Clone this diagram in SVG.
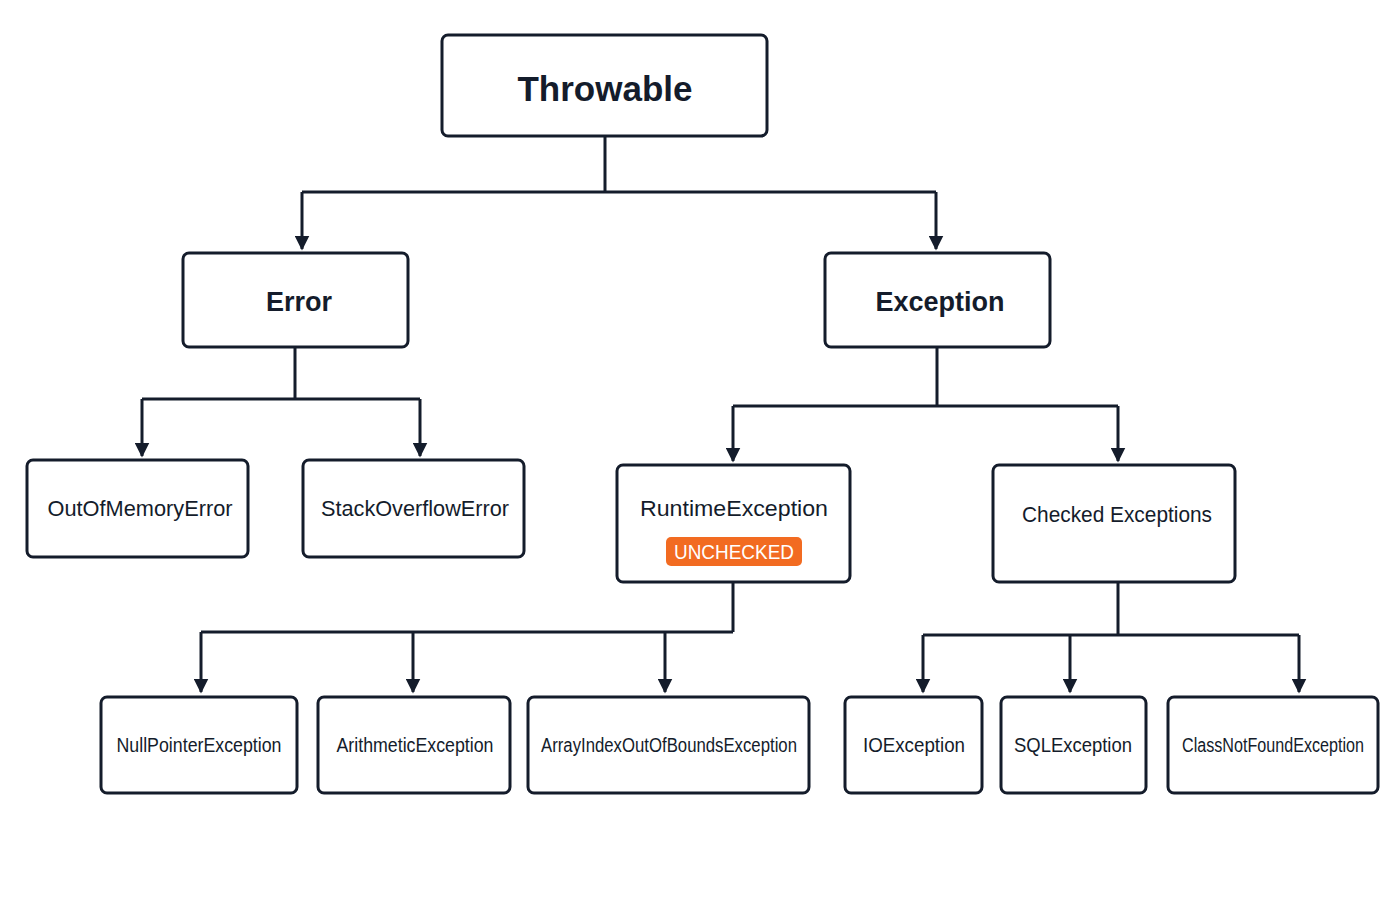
<svg xmlns="http://www.w3.org/2000/svg" width="1400" height="900" viewBox="0 0 1400 900">
<defs>
<marker id="ah" viewBox="0 0 10 10" refX="9" refY="5" markerWidth="5" markerHeight="5" orient="auto" markerUnits="strokeWidth"><path d="M0,0 L10,5 L0,10 z" fill="#141c2b"/></marker>
<style>
.b{fill:#fff;stroke:#141c2b;stroke-width:3}
.c{fill:none;stroke:#141c2b;stroke-width:3}
text{font-family:"Liberation Sans",Arial,sans-serif;fill:#141c2b;text-anchor:middle;dominant-baseline:central}
.t1{font-size:35px;font-weight:bold}
.t2{font-size:27px;font-weight:bold}
.t3{font-size:22px}
.t4{font-size:20px}
</style>
</defs>
<rect width="1400" height="900" fill="#fff"/>
<g id="connectors">
<path class="c" d="M605,136 V192 M302,192 H936" />
<path class="c" d="M302,192 V249" marker-end="url(#ah)"/>
<path class="c" d="M936,192 V249" marker-end="url(#ah)"/>
<path class="c" d="M295,347 V399 M142,399 H420"/>
<path class="c" d="M142,399 V456" marker-end="url(#ah)"/>
<path class="c" d="M420,399 V456" marker-end="url(#ah)"/>
<path class="c" d="M937,347 V406 M733,406 H1118"/>
<path class="c" d="M733,406 V461" marker-end="url(#ah)"/>
<path class="c" d="M1118,406 V461" marker-end="url(#ah)"/>
<path class="c" d="M733,582 V632 M201,632 H733"/>
<path class="c" d="M201,632 V692" marker-end="url(#ah)"/>
<path class="c" d="M413,632 V692" marker-end="url(#ah)"/>
<path class="c" d="M665,632 V692" marker-end="url(#ah)"/>
<path class="c" d="M1118,582 V635 M923,635 H1299"/>
<path class="c" d="M923,635 V692" marker-end="url(#ah)"/>
<path class="c" d="M1070,635 V692" marker-end="url(#ah)"/>
<path class="c" d="M1299,635 V692" marker-end="url(#ah)"/>
</g>
<g id="throwable"><rect class="b" x="442" y="35" width="325" height="101" rx="6"/><text class="t1" x="605" y="88">Throwable</text></g>
<g id="error"><rect class="b" x="183" y="253" width="225" height="94" rx="6"/><text class="t2" x="299" y="302">Error</text></g>
<g id="exception"><rect class="b" x="825" y="253" width="225" height="94" rx="6"/><text class="t2" x="940" y="302">Exception</text></g>
<g id="oom"><rect class="b" x="27" y="460" width="221" height="97" rx="6"/><text class="t3" x="140" y="508" textLength="185" lengthAdjust="spacingAndGlyphs">OutOfMemoryError</text></g>
<g id="so"><rect class="b" x="303" y="460" width="221" height="97" rx="6"/><text class="t3" x="415" y="508" textLength="188" lengthAdjust="spacingAndGlyphs">StackOverflowError</text></g>
<g id="runtime"><rect class="b" x="617" y="465" width="233" height="117" rx="6"/><text class="t3" x="734" y="508" textLength="188" lengthAdjust="spacingAndGlyphs">RuntimeException</text>
<rect x="666" y="537" width="136" height="29" rx="5" fill="#f26b21"/><text x="734" y="552" style="font-size:20px;fill:#fff" textLength="120" lengthAdjust="spacingAndGlyphs">UNCHECKED</text></g>
<g id="checked"><rect class="b" x="993" y="465" width="242" height="117" rx="6"/><text class="t3" x="1117" y="514" textLength="190" lengthAdjust="spacingAndGlyphs">Checked Exceptions</text></g>
<g id="npe"><rect class="b" x="101" y="697" width="196" height="96" rx="6"/><text class="t4" x="199" y="745" textLength="165" lengthAdjust="spacingAndGlyphs">NullPointerException</text></g>
<g id="arith"><rect class="b" x="318" y="697" width="192" height="96" rx="6"/><text class="t4" x="415" y="745" textLength="157" lengthAdjust="spacingAndGlyphs">ArithmeticException</text></g>
<g id="aioobe"><rect class="b" x="528" y="697" width="281" height="96" rx="6"/><text class="t4" x="669" y="745" textLength="256" lengthAdjust="spacingAndGlyphs">ArrayIndexOutOfBoundsException</text></g>
<g id="io"><rect class="b" x="845" y="697" width="137" height="96" rx="6"/><text class="t4" x="914" y="745" textLength="102" lengthAdjust="spacingAndGlyphs">IOException</text></g>
<g id="sql"><rect class="b" x="1001" y="697" width="145" height="96" rx="6"/><text class="t4" x="1073" y="745" textLength="118" lengthAdjust="spacingAndGlyphs">SQLException</text></g>
<g id="cnf"><rect class="b" x="1168" y="697" width="210" height="96" rx="6"/><text class="t4" x="1273" y="745" textLength="182" lengthAdjust="spacingAndGlyphs">ClassNotFoundException</text></g>
</svg>
